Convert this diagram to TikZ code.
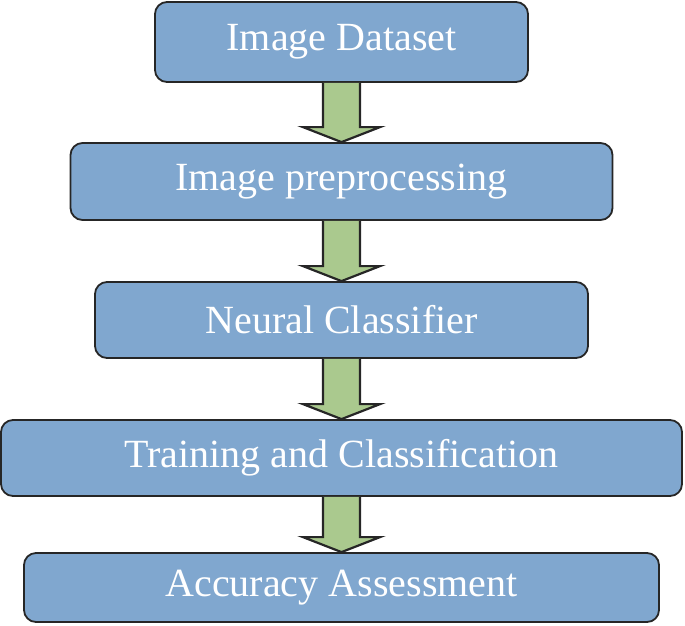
\documentclass[tikz,border=0pt]{standalone}
\usepackage{fontspec}
\setmainfont{Liberation Serif}
\usetikzlibrary{calc, positioning}

\definecolor{boxblue}{RGB}{128,167,207}
\definecolor{arrowgreen}{RGB}{170,201,142}

\tikzset{
    stepbox/.style={draw=black!85, line width=1.8pt, fill=boxblue, rounded corners=12pt,
        text=white, font=\fontsize{40}{44}\selectfont, inner sep=0pt},
    blockarrow/.style={draw=black!85, line width=2.2pt, fill=arrowgreen, line join=miter}
}

\begin{document}
\begin{tikzpicture}[x=1pt, y=1pt]
    % ==========================================
    % AREA DEL DISEGNO (685 x 625)
    % ==========================================
    \useasboundingbox (0,0) rectangle (685,-625);

    \def\sw{18.5}  % mezza larghezza del fusto
    \def\hw{38.5}  % mezza larghezza della punta
    \def\hl{15}    % lunghezza della punta

    % ==========================================
    % BLOCCHI
    % ==========================================
    \node [stepbox, minimum width=373pt, minimum height=80pt] (dataset) at (341.5,-42) {Image Dataset};
    \node [stepbox, minimum width=542pt, minimum height=77pt] (preproc) at (341.5,-181.5) {Image preprocessing};
    \node [stepbox, minimum width=493pt, minimum height=76pt] (neural) at (341.5,-320) {Neural Classifier};
    \node [stepbox, minimum width=681pt, minimum height=76pt] (training) at (341.5,-458) {Training and Classification};
    \node [stepbox, minimum width=635pt, minimum height=69pt] (accuracy) at (341.5,-587.5) {Accuracy Assessment};

    % ==========================================
    % FRECCE A BLOCCO
    % #1 = nodo di partenza, #2 = nodo di arrivo
    % ==========================================
    \newcommand{\flowarrow}[2]{
        \draw [blockarrow]
            ($(#1.south)+(-\sw,0)$) -- ($(#2.north)+(-\sw,\hl)$) --
            ($(#2.north)+(-\hw,\hl)$) -- (#2.north) --
            ($(#2.north)+(\hw,\hl)$) -- ($(#2.north)+(\sw,\hl)$) --
            ($(#1.south)+(\sw,0)$);
    }

    \flowarrow{dataset}{preproc}
    \flowarrow{preproc}{neural}
    \flowarrow{neural}{training}
    \flowarrow{training}{accuracy}

\end{tikzpicture}
\end{document}
